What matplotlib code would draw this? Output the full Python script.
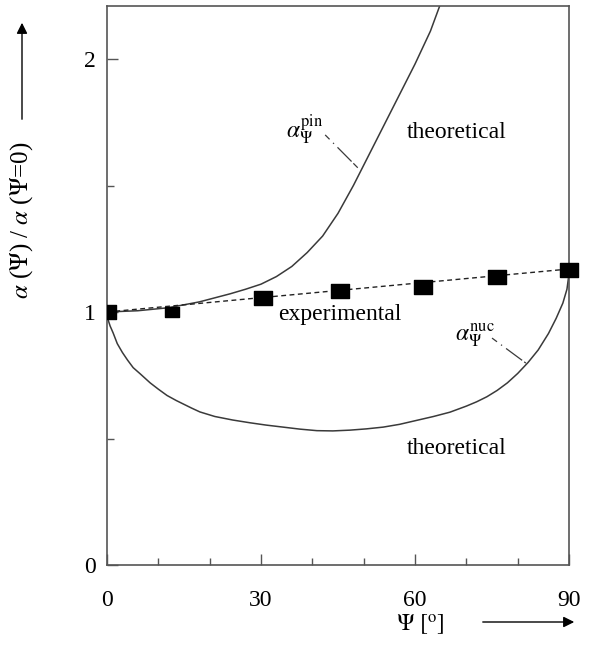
import numpy as np
import matplotlib
matplotlib.use("Agg")
import matplotlib.pyplot as plt
from matplotlib.path import Path

plt.rcParams["font.family"] = "serif"
plt.rcParams["font.serif"] = ["Liberation Serif", "DejaVu Serif"]
plt.rcParams["mathtext.fontset"] = "stix"

# theoretical curve, pinning (upper)
pin_psi = [0, 6, 12, 18, 24, 27, 30, 33, 36, 39, 42, 45, 48, 51, 54, 57, 60, 63, 65]
pin_val = [1.0, 1.005, 1.017, 1.04, 1.072, 1.09, 1.11, 1.14, 1.18, 1.235, 1.30,
           1.39, 1.50, 1.62, 1.74, 1.86, 1.98, 2.11, 2.22]

# theoretical curve, nucleation (lower)
nuc_psi = [0, 0.2, 0.6, 1.2, 2, 3, 4, 5.1, 6.5, 8.4, 10, 11.7, 13.5, 15, 16.5,
           18.1, 21, 24.5, 27.9, 31, 34.3, 37.6, 40.9, 44, 47.3, 50.5, 53.8, 57,
           60.4, 63.6, 66.8, 70, 72, 74, 76, 78, 80, 82, 84, 86, 87.5, 88.8,
           89.6, 90]
nuc_val = [1.0, 0.97, 0.945, 0.917, 0.875, 0.84, 0.81, 0.78, 0.755, 0.72, 0.695,
           0.67, 0.65, 0.635, 0.62, 0.605, 0.587, 0.573, 0.562, 0.553, 0.545,
           0.537, 0.531, 0.530, 0.533, 0.538, 0.545, 0.556, 0.572, 0.587, 0.604,
           0.628, 0.645, 0.665, 0.69, 0.72, 0.757, 0.80, 0.85, 0.915, 0.975,
           1.035, 1.09, 1.15]

# experimental points and linear fit
exp_psi = [0, 12.6, 30.4, 45.4, 61.6, 76, 90]
exp_val = [1.0, 1.0, 1.055, 1.083, 1.099, 1.138, 1.166]
fit_psi = [0, 90]
fit_val = [1.0, 1.17]

W, H = 590, 660
fig = plt.figure(figsize=(W / 100, H / 100), dpi=100)
ax = fig.add_axes([107 / W, 95 / H, 462 / W, 559 / H])

line_col = "#3a3a3a"
ax.plot(pin_psi, pin_val, color=line_col, lw=1.1)
ax.plot(nuc_psi, nuc_val, color=line_col, lw=1.1)
ax.plot(fit_psi, fit_val, color="#222222", lw=1.0, linestyle=(0, (3.5, 2.5)))

rect = Path([(-1, -0.75), (1, -0.75), (1, 0.75), (-1, 0.75), (-1, -0.75)],
            [Path.MOVETO, Path.LINETO, Path.LINETO, Path.LINETO, Path.CLOSEPOLY])
sq = dict(linestyle="none", marker=rect, color="black", zorder=5)
ax.plot(exp_psi[:1], exp_val[:1], markersize=12.5, **sq)
ax.plot(exp_psi[1:2], exp_val[1:2], markersize=9.5, **sq)
ax.plot(exp_psi[2:], exp_val[2:], markersize=12.5, clip_on=False, **sq)

ax.set_xlim(0, 90)
ax.set_ylim(0, 559 / 253)
ax.set_xticks([0, 30, 60, 90])
ax.set_xticks([10, 20, 40, 50, 70, 80], minor=True)
ax.set_yticks([0, 1, 2])
ax.set_yticks([0.5, 1.5], minor=True)
ax.tick_params(which="both", direction="in", top=False, right=False,
               color="#555555", width=1.0, labelsize=17)
ax.tick_params(which="major", length=8)
ax.tick_params(which="minor", length=5)
ax.tick_params(axis="x", pad=18)
ax.tick_params(axis="y", pad=8)
for s in ax.spines.values():
    s.set_color("#555555")
    s.set_linewidth(1.2)

fs = 17
ax.text(68.2, 1.71, "theoretical", fontsize=fs, ha="center", va="center")
ax.text(68.2, 0.46, "theoretical", fontsize=fs, ha="center", va="center")
ax.text(45.4, 0.99, "experimental", fontsize=fs, ha="center", va="center")

ax.text(38.6, 1.72, r"$\alpha_{\Psi}^{\mathrm{pin}}$", fontsize=fs, ha="center", va="center")
ax.plot([42.5, 49.1], [1.70, 1.565], color=line_col, lw=0.9,
        linestyle=(0, (5, 4, 1, 4, 16, 2)))
ax.text(71.7, 0.91, r"$\alpha_{\Psi}^{\mathrm{nuc}}$", fontsize=fs, ha="center", va="center")
ax.plot([75.0, 81.6], [0.897, 0.798], color=line_col, lw=0.9,
        linestyle=(0, (5, 4, 1, 4, 16, 2)))

# axis labels with arrows
fig.text(22 / W, 1 - 220 / H, r"$\alpha$ ($\Psi$) / $\alpha$ ($\Psi$=0)", fontsize=18,
         rotation=90, ha="center", va="center")
fig.add_artist(plt.Annotation("", xy=(22, H - 20), xytext=(22, H - 122),
                              xycoords="figure pixels", textcoords="figure pixels",
                              arrowprops=dict(arrowstyle="-|>", lw=1.0, color="black",
                                              mutation_scale=16)))
fig.text(420 / W, 1 - 625 / H, r"$\Psi\ [^{\mathrm{o}}]$", fontsize=17,
         ha="center", va="center")
fig.add_artist(plt.Annotation("", xy=(577, H - 622), xytext=(480, H - 622),
                              xycoords="figure pixels", textcoords="figure pixels",
                              arrowprops=dict(arrowstyle="-|>", lw=1.0, color="black",
                                              mutation_scale=16)))

fig.savefig("out.png", dpi=100, facecolor="white")
